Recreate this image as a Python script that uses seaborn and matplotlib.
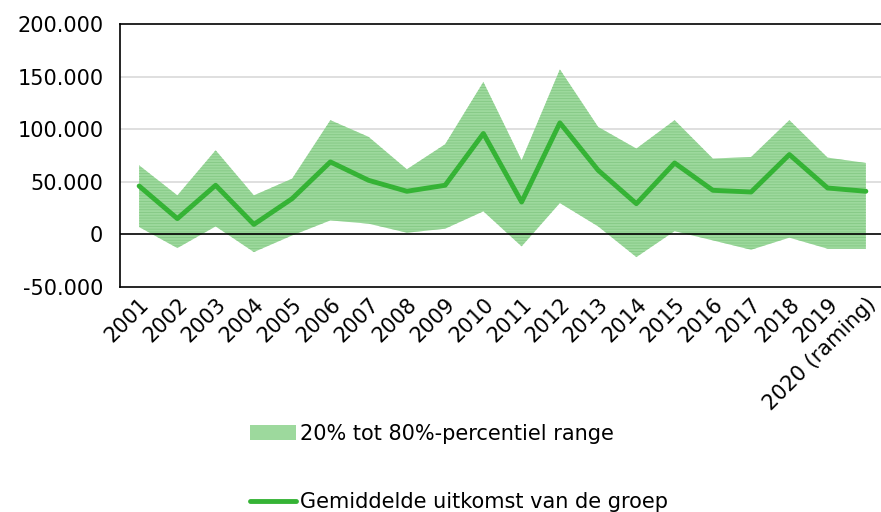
import matplotlib.pyplot as plt
import matplotlib.ticker as mticker
from matplotlib.patches import Patch
from matplotlib.lines import Line2D
import seaborn as sns
import pandas as pd
import numpy as np

sns.set_style("white")
plt.rcParams['font.family'] = ['DejaVu Sans']
plt.rcParams['hatch.linewidth'] = 0.6
plt.rcParams['text.color'] = 'black'
plt.rcParams['xtick.color'] = 'black'
plt.rcParams['ytick.color'] = 'black'

years = ['2001', '2002', '2003', '2004', '2005', '2006', '2007', '2008', '2009', '2010',
         '2011', '2012', '2013', '2014', '2015', '2016', '2017', '2018', '2019', '2020 (raming)']
mean_vals = [46000, 15000, 46700, 9500, 34000, 68900, 51400, 41000, 46700, 95900,
             30800, 106000, 61000, 29200, 67900, 41900, 40300, 75900, 44100, 41000]
p80 = [65700, 37100, 80000, 37100, 53000, 108600, 92700, 61900, 85700, 145000,
       70500, 156900, 102200, 81600, 108600, 72100, 73600, 108600, 73000, 67900]
p20 = [7000, -13000, 7600, -16800, -1000, 13300, 10200, 1600, 5400, 21900,
       -11400, 29800, 7600, -21600, 3100, -5700, -14600, -3100, -13600, -13600]

df = pd.DataFrame({'jaar': years, 'gem': mean_vals, 'p20': p20, 'p80': p80})
df['pos'] = np.arange(len(df))

line_col = '#35b335'
fill_col = '#9dd99d'
fs = 15

fig = plt.figure(figsize=(8.81, 5.12), dpi=100)
ax = fig.add_axes([120 / 881, (512 - 287) / 512, (885 - 120) / 881, (287 - 24) / 512])

ax.fill_between(df['pos'], df['p20'], df['p80'], facecolor=fill_col,
                edgecolor='#84c884', hatch='------', linewidth=0, zorder=2)
sns.lineplot(data=df, x='pos', y='gem', color=line_col, linewidth=3.5, ax=ax, zorder=3)

ax.axhline(0, color='black', linewidth=1.2, zorder=2.5)
for v in [50000, 100000, 150000]:
    ax.axhline(v, color='#d9d9d9', linewidth=1.2, zorder=1)

ax.set_ylim(-50000, 200000)
ax.set_xlim(-0.5, len(df) - 0.5)
ax.set_yticks(np.arange(-50000, 200001, 50000))
ax.yaxis.set_major_formatter(mticker.FuncFormatter(lambda v, p: f"{int(v):,}".replace(',', '.')))
ax.set_xticks(df['pos'])
ax.set_xticklabels(df['jaar'], rotation=45, ha='right', rotation_mode='anchor')
ax.tick_params(axis='both', labelsize=fs, length=0)
ax.tick_params(axis='y', pad=12)
ax.tick_params(axis='x', pad=5)
ax.set_xlabel('')
ax.set_ylabel('')
for s in ax.spines.values():
    s.set_color('black')
    s.set_linewidth(1.2)

h1 = Patch(facecolor=fill_col, edgecolor='none')
h2 = Line2D([0], [0], color=line_col, linewidth=3.5, solid_capstyle='round')
leg1 = fig.legend([h1], ['20% tot 80%-percentiel range'], loc='center left',
                  bbox_to_anchor=(250 / 881, 1 - 434 / 512), frameon=False, fontsize=fs,
                  handlelength=2.2, handletextpad=0.2, borderaxespad=0, borderpad=0)
leg2 = fig.legend([h2], ['Gemiddelde uitkomst van de groep'], loc='center left',
                  bbox_to_anchor=(250 / 881, 1 - 502 / 512), frameon=False, fontsize=fs,
                  handlelength=2.2, handletextpad=0.2, borderaxespad=0, borderpad=0)

fig.savefig('out.png', dpi=100)
